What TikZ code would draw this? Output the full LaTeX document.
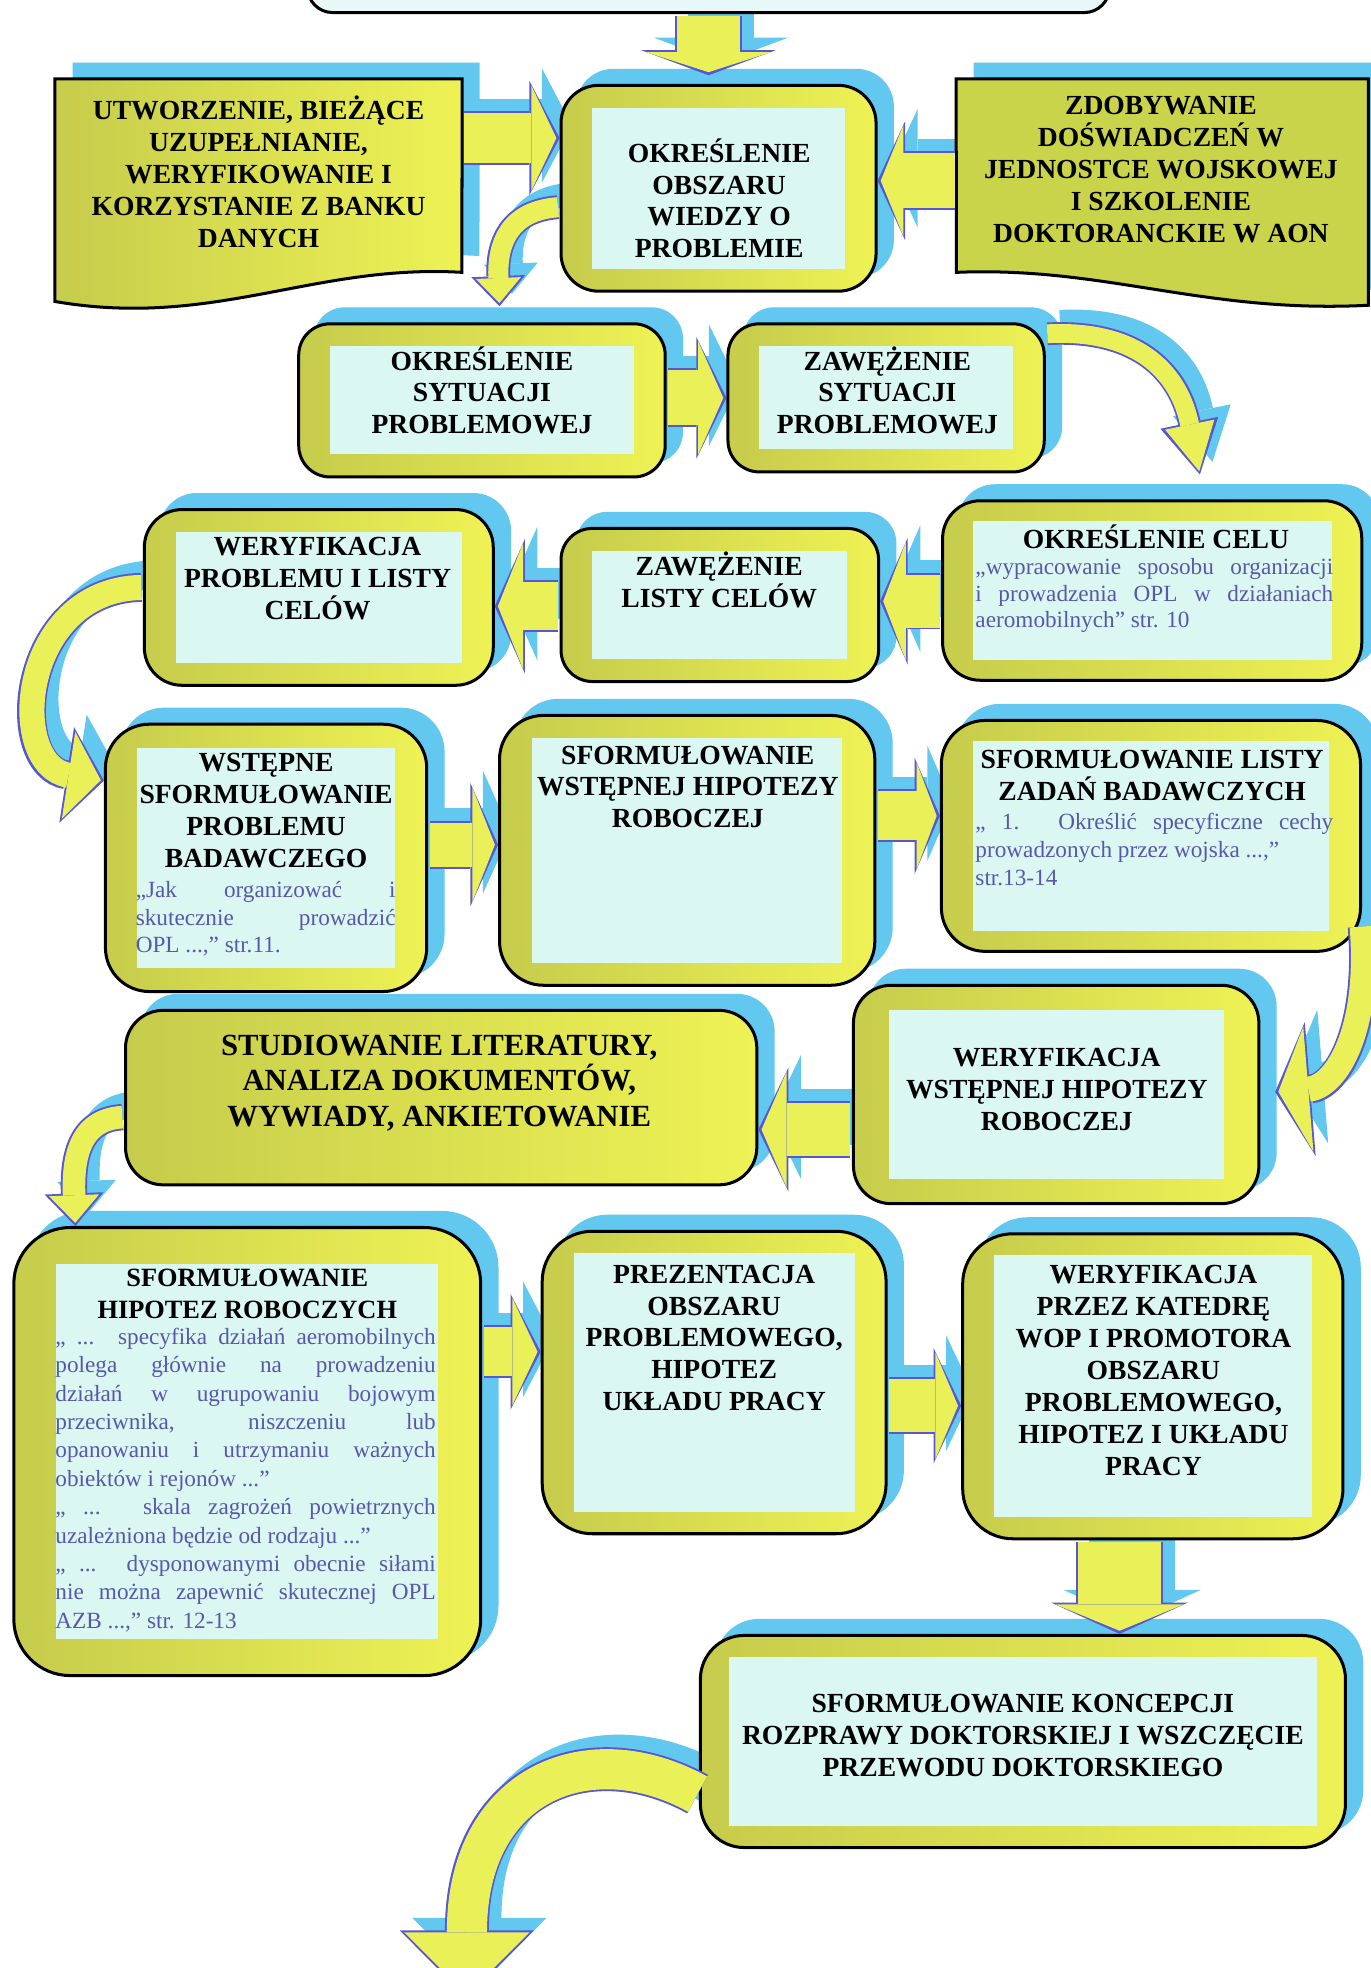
\documentclass[tikz,border=0pt]{standalone}
\usepackage{fontspec}
\setmainfont{Liberation Serif}
\usetikzlibrary{arrows.meta,shadows,fit,backgrounds}

\definecolor{frameyel}{RGB}{238,242,84}
\definecolor{frameolv}{RGB}{198,204,76}
\definecolor{innercy}{RGB}{218,247,241}
\definecolor{shadecy}{RGB}{98,200,240}
\definecolor{rimblue}{RGB}{86,86,214}
\definecolor{arrowyel}{RGB}{234,241,88}
\definecolor{quoteblue}{RGB}{88,88,170}
\definecolor{docolv}{RGB}{202,212,74}
\definecolor{topfill}{RGB}{232,247,248}

\tikzset{
  padx/.store in=\padx, pady/.store in=\pady, padx=25pt, pady=18pt,
  boxframe/.style={draw=black, line width=2.4pt, rounded corners=#1, inner sep=0pt,
    left color=frameolv, right color=frameyel},
  panel/.style={boxframe=#1,
    path picture={\fill[innercy, sharp corners]
      ([shift={(\padx,-\pady)}]path picture bounding box.north west) rectangle
      ([shift={(-\padx,\pady)}]path picture bounding box.south east);}},
  topbox/.style={draw=black, line width=2.4pt, rounded corners=20pt, inner sep=0pt, fill=topfill},
  docspot/.style={inner sep=0pt},
  docline/.style={draw=black, line width=2.4pt,
    general shadow={fill=shadecy, shadow xshift=14pt, shadow yshift=13pt}},
  title/.style={font=\bfseries\fontsize{22}{25.4}\selectfont, align=center, inner sep=0pt},
  quotetext/.style={font=\fontsize{18.5}{22}\selectfont, text=quoteblue, align=justify,
    inner sep=0pt, anchor=north west},
  arrowshade/.style={draw=shadecy, shorten <=1.2pt, transform canvas={xshift=10pt,yshift=10pt}},
  arrowrim/.style={draw=rimblue, shorten <=1.2pt},
  arrowbody/.style={draw=arrowyel, shorten <=1.2pt, shorten >=2.5pt},
}

% block arrow: shaft, head width, head length, path
\newcommand\fatarrow[4]{%
  \pgfmathsetmacro\rimw{#1+3}%
  \pgfmathsetmacro\rimh{#2+7}%
  \pgfmathsetmacro\riml{#3+4}%
  \begin{pgfonlayer}{background}
    \draw[arrowshade, line width=\rimw pt, -{Triangle[width=\rimh pt,length=\riml pt,line width=0pt]}] #4;
  \end{pgfonlayer}
  \draw[arrowrim, line width=\rimw pt, -{Triangle[width=\rimh pt,length=\riml pt,line width=0pt]}] #4;
  \draw[arrowbody, line width=#1pt, -{Triangle[width=#2pt,length=#3pt,line width=0pt]}] #4;
}

\begin{document}
\begin{tikzpicture}[x=1pt,y=-1pt]
\useasboundingbox (0,0) rectangle (1092,1568);

% row 1
\node[topbox, fit={(245,-40) (884,10)}] (start) {};

\node[docspot, fit={(44,63) (368,240)}] (bank) {};
\filldraw[docline, left color=frameolv, right color=frameyel] (bank.north west) -- (bank.north east)
  -- (368,217) .. controls (250,210) and (170,262) .. (bank.south west) -- cycle;
\node[title] (bank-t) at (206,137) {UTWORZENIE, BIEŻĄCE\\UZUPEŁNIANIE,\\WERYFIKOWANIE I\\KORZYSTANIE Z BANKU\\DANYCH};

\node[panel=30pt, fit={(447,68) (698,232)}] (obszar) {};
\node[title] (obszar-t) at (573,158) {OKREŚLENIE\\OBSZARU\\WIEDZY O\\PROBLEMIE};

\node[docspot, fit={(762,63) (1090,243)}] (wojsko) {};
\filldraw[docline, fill=docolv] (wojsko.north west) -- (wojsko.north east) -- (wojsko.south east)
  .. controls (960,250) and (880,212) .. (762,217) -- cycle;
\node[title] (wojsko-t) at (925,135) {ZDOBYWANIE\\DOŚWIADCZEŃ W\\JEDNOSTCE WOJSKOWEJ\\I SZKOLENIE\\DOKTORANCKIE W AON};

% row 2
\node[panel=25pt, fit={(238,258) (530,380)}] (sytuacja) {};
\node[title] (sytuacja-t) at (384,311) {OKREŚLENIE\\SYTUACJI\\PROBLEMOWEJ};
\node[panel=25pt, fit={(580,258) (832,376)}] (zawsyt) {};
\node[title] (zawsyt-t) at (707,311) {ZAWĘŻENIE\\SYTUACJI\\PROBLEMOWEJ};

% row 3
\node[panel=30pt, fit={(115,406) (393,546)}] (weryf) {};
\node[title] (weryf-t) at (253,461) {WERYFIKACJA\\PROBLEMU I LISTY\\CELÓW};
\node[panel=25pt, fit={(447,421) (700,543)}] (zawcel) {};
\node[title] (zawcel-t) at (573,462) {ZAWĘŻENIE\\LISTY CELÓW};
\node[panel=30pt, padx=24pt, pady=16pt, fit={(751,399) (1085,542)}] (cel) {};
\node[title] (cel-t) at (921,428) {OKREŚLENIE CELU};
\node[quotetext, text width=285pt, font=\fontsize{18.5}{21}\selectfont] (cel-q) at (777,445)
  {„wypracowanie sposobu organizacji\linebreak i prowadzenia OPL w działaniach\linebreak aeromobilnych” str. 10};

% row 4
\node[panel=35pt, pady=19pt, fit={(84,577) (340,790)}] (wstep) {};
\node[title] (wstep-t) at (212,646) {WSTĘPNE\\SFORMUŁOWANIE\\PROBLEMU\\BADAWCZEGO};
\node[quotetext, text width=207pt] (wstep-q) at (108,702)
  {„Jak organizować i\linebreak skutecznie prowadzić\linebreak OPL ...,” str.11.};
\node[panel=35pt, padx=26pt, fit={(398,570) (697,785)}] (hipw) {};
\node[title] (hipw-t) at (548,627) {SFORMUŁOWANIE\\WSTĘPNEJ HIPOTEZY\\ROBOCZEJ};
\node[panel=35pt, pady=16pt, fit={(750,574) (1084,758)}] (zadania) {};
\node[title] (zadania-t) at (918,618) {SFORMUŁOWANIE LISTY\\ZADAŃ BADAWCZYCH};
\node[quotetext, text width=285pt] (zadania-q) at (777,648)
  {„ 1. Określić specyficzne cechy\linebreak prowadzonych przez wojska ...,”\\ str.13-14};

% row 5
\node[boxframe=30pt, fit={(100,805) (603,944)}] (studia) {};
\node[title, font=\bfseries\fontsize{24.5}{28}\selectfont] (studia-t) at (350,863)
  {STUDIOWANIE LITERATURY,\\ANALIZA DOKUMENTÓW,\\WYWIADY, ANKIETOWANIE};
\node[panel=30pt, padx=28pt, pady=20pt, fit={(680,785) (1003,959)}] (wer2) {};
\node[title] (wer2-t) at (842,868) {WERYFIKACJA\\WSTĘPNEJ HIPOTEZY\\ROBOCZEJ};

% row 6
\node[panel=45pt, padx=34pt, pady=29pt, fit={(11,978) (383,1335)}] (hipr) {};
\node[title, font=\bfseries\fontsize{21}{25}\selectfont] (hipr-t) at (197,1031) {SFORMUŁOWANIE\\HIPOTEZ ROBOCZYCH};
\node[quotetext, text width=303pt, font=\fontsize{18.5}{22.6}\selectfont] (hipr-q) at (44,1058)
  {„ ... specyfika działań aeromobilnych\linebreak
   polega głównie na prowadzeniu\linebreak
   działań w ugrupowaniu bojowym\linebreak
   przeciwnika, niszczeniu lub\linebreak
   opanowaniu i utrzymaniu ważnych\linebreak
   obiektów i rejonów ...”\\
   „ ... skala zagrożeń powietrznych\linebreak
   uzależniona będzie od rodzaju ...”\\
   „ ... dysponowanymi obecnie siłami\linebreak
   nie można zapewnić skutecznej OPL\linebreak
   AZB ...,” str. 12-13};
\node[panel=40pt, pady=17pt, fit={(432,981) (706,1222)}] (prez) {};
\node[title] (prez-t) at (569,1066) {PREZENTACJA\\OBSZARU\\PROBLEMOWEGO,\\HIPOTEZ\\UKŁADU PRACY};
\node[panel=40pt, pady=17pt, fit={(767,983) (1070,1226)}] (katedra) {};
\node[title] (katedra-t) at (919,1092) {WERYFIKACJA\\PRZEZ KATEDRĘ\\WOP I PROMOTORA\\OBSZARU\\PROBLEMOWEGO,\\HIPOTEZ I UKŁADU\\PRACY};

% row 7
\node[panel=35pt, padx=23pt, pady=17pt, fit={(558,1303) (1072,1472)}] (koncepcja) {};
\node[title] (koncepcja-t) at (815,1383) {SFORMUŁOWANIE KONCEPCJI\\ROZPRAWY DOKTORSKIEJ I WSZCZĘCIE\\PRZEWODU DOKTORSKIEGO};

% free ends of the curled arrows
\coordinate (tipD) at (398,244);
\coordinate (tipH) at (956,378);
\coordinate (tipL) at (1016,870);
\coordinate (tipOut) at (372,1592);

% cyan shadows of the panels
\begin{pgfonlayer}{background}
\foreach \nd/\r in {start/20,obszar/30,sytuacja/25,zawsyt/25,weryf/30,zawcel/25,cel/30,
  wstep/35,hipw/35,zadania/35,studia/30,wer2/30,hipr/45,prez/40,katedra/40,koncepcja/35}
  \fill[shadecy, rounded corners=\r pt] ([shift={(13pt,12pt)}]\nd.south west)
    rectangle ([shift={(13pt,12pt)}]\nd.north east);
\end{pgfonlayer}

% straight arrows
\fatarrow{50}{100}{16}{(start.south) -- (start.south |- 0,60)}
\fatarrow{40}{84}{20}{(bank.east |- 0,110) -- (obszar.west |- 0,110)}
\fatarrow{44}{88}{18}{(wojsko.west |- 0,144) -- (obszar.east |- 0,144)}
\fatarrow{44}{90}{20}{(sytuacja.east |- 0,317) -- (zawsyt.west |- 0,317)}
\fatarrow{42}{94}{18}{(cel.west |- 0,479) -- (zawcel.east |- 0,479)}
\fatarrow{38}{100}{20}{(zawcel.west |- 0,483) -- (weryf.east |- 0,483)}
\fatarrow{35}{91}{18}{(wstep.east |- 0,673) -- (hipw.west |- 0,673)}
\fatarrow{39}{85}{16}{(hipw.east |- 0,650) -- (zadania.west |- 0,650)}
\fatarrow{42}{92}{20}{(wer2.west |- 0,900) -- (studia.east |- 0,900)}
\fatarrow{39}{85}{20}{(hipr.east |- 0,1077) -- (prez.west |- 0,1077)}
\fatarrow{42}{85}{18}{(prez.east |- 0,1120) -- (katedra.west |- 0,1120)}
\fatarrow{66}{102}{21}{(katedra.south -| 892,0) -- (koncepcja.north -| 892,0)}

% curled arrows
\fatarrow{16}{36}{20}{(obszar.west |- 0,165) .. controls (405,168) and (396,195) .. (tipD)}
\fatarrow{15}{40}{38}{(zawsyt.east |- 0,266) .. controls (910,262) and (940,300) .. (tipH)}
\fatarrow{20}{70}{26}{(weryf.west |- 0,468) .. controls (15,470) and (5,610) .. (wstep.west |- 0,622)}
\fatarrow{20}{100}{24}{(zadania.east |- 0,737) .. controls (1092,820) and (1065,866) .. (tipL)}
\fatarrow{18}{40}{22}{(studia.west |- 0,890) .. controls (62,892) and (58,925) .. (hipr.north -| 60,0)}
\fatarrow{32}{100}{50}{(koncepcja.west |- 0,1430) .. controls (470,1382) and (372,1420) .. (tipOut)}
\end{tikzpicture}
\end{document}
